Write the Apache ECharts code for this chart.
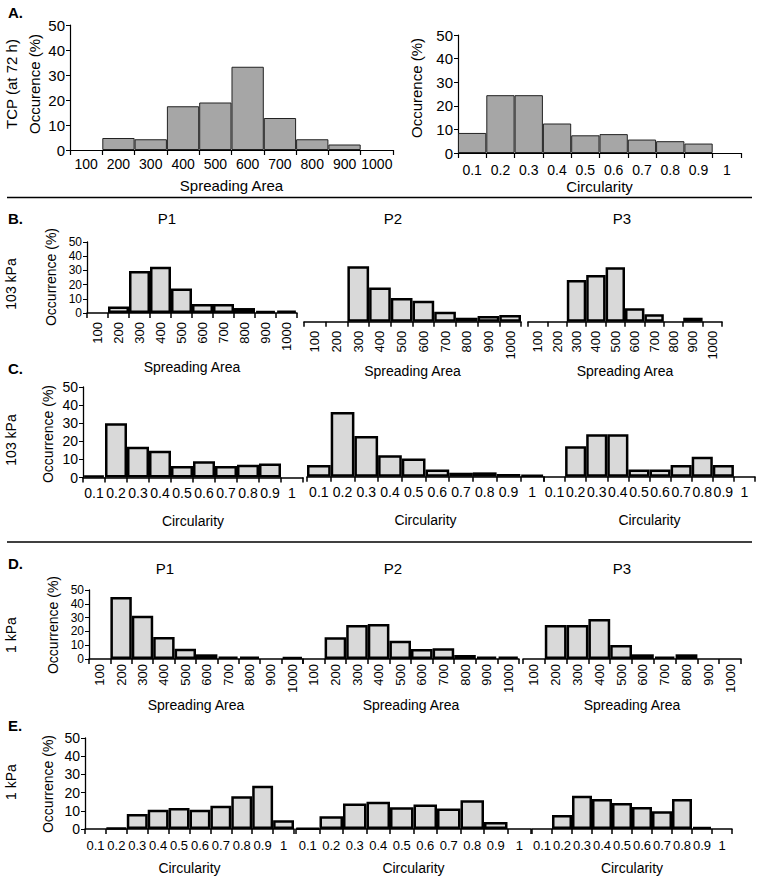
<!DOCTYPE html>
<html><head><meta charset="utf-8">
<script src="https://cdn.jsdelivr.net/npm/echarts@6/dist/echarts.min.js"></script>
<style>html,body{margin:0;padding:0;background:#fff}#c{width:762px;height:879px}</style>
</head><body><div id="c"></div>
<script>
// ---- categories / tick labels ----
const areaCats = ['100','200','300','400','500','600','700','800','900','1000'];
const circCats = ['0.1','0.2','0.3','0.4','0.5','0.6','0.7','0.8','0.9','1'];
const yMin = 0, yMax = 50, yStep = 10;

// ---- A. TCP (at 72 h) ----
const tcpArea = [0, 4.8, 4.3, 17.5, 19, 33.3, 12.8, 4.3, 2.2, 0];
const tcpCirc = [8.5, 24.5, 24.5, 12.5, 7.5, 8, 5.7, 5, 4, 0];
// ---- B. 103 kPa spreading area ----
const kpa103AreaP1 = [0, 4.6, 29.5, 32.5, 17.2, 6.3, 6.3, 3.5, 1.5, 1.6];
const kpa103AreaP2 = [0, 0, 39, 24, 16.7, 14.8, 7, 2.8, 4, 4.7];
const kpa103AreaP3 = [0, 0, 29.3, 32.9, 38.3, 9.4, 5.2, 0, 2.8, 0];
// ---- C. 103 kPa circularity ----
const kpa103CircP1 = [1.2, 30, 17, 14.8, 6.3, 9, 6.3, 7, 7.7, 0];
const kpa103CircP2 = [6.4, 35.7, 22.5, 11.9, 10, 4, 2.2, 2.4, 1.5, 1];
const kpa103CircP3 = [0, 16.8, 23.4, 23.4, 4, 4, 6.4, 11, 6.4, 0];
// ---- D. 1 kPa spreading area ----
const kpa1AreaP1 = [0, 45, 31.4, 16, 7.5, 3.4, 1.7, 1.7, 0, 1.5];
const kpa1AreaP2 = [0, 15.7, 24.6, 25.4, 13.3, 7.2, 7.7, 2.9, 1.7, 1.7];
const kpa1AreaP3 = [0, 24.6, 24.6, 29, 10.1, 3.4, 1.7, 3.4, 0, 0];
// ---- E. 1 kPa circularity ----
const kpa1CircP1 = [0, 0.5, 8.2, 10.6, 11.5, 10.6, 12.8, 18, 23.8, 4.8];
const kpa1CircP2 = [0.3, 7, 14, 15, 12, 13.4, 11.2, 15.8, 3.9, 0];
const kpa1CircP3 = [0, 7.7, 18.3, 16.5, 14.3, 12.1, 9.7, 16.5, 1.1, 0];

const FONT = '"Liberation Sans", Arial, Helvetica, sans-serif';

// layout of each small chart (positions only)
const panels = [
  {d: tcpArea, c: areaCats, l: 70, t: 25, w: 323, h: 125, y: true, kind: 'A', rot: 0, m: 7, fs: 14, yfs: 15, name: 'Spreading Area', gap: 28},
  {d: tcpCirc, c: circCats, l: 458, t: 35, w: 283, h: 118, y: true, kind: 'A', rot: 0, m: 10, fs: 14, yfs: 15, name: 'Circularity', gap: 26},

  {d: kpa103AreaP1, c: areaCats, l: 87, t: 242, w: 210, h: 71, y: true, kind: 'B', rot: 90, m: 9, fs: 13, yfs: 12, name: 'Spreading Area', gap: 47},
  {d: kpa103AreaP2, c: areaCats, l: 304, t: 250.7, w: 217, h: 71, y: false, kind: 'B', rot: 90, m: 9, fs: 13, yfs: 12, name: 'Spreading Area', gap: 38},
  {d: kpa103AreaP3, c: areaCats, l: 528, t: 250.7, w: 194, h: 71, y: false, kind: 'B', rot: 90, m: 9, fs: 13, yfs: 12, name: 'Spreading Area', gap: 38},

  {d: kpa103CircP1, c: circCats, l: 83, t: 387, w: 220, h: 90.5, y: true, kind: 'B', rot: 0, m: 8, fs: 14, yfs: 14, name: 'Circularity', gap: 36},
  {d: kpa103CircP2, c: circCats, l: 307, t: 386.2, w: 237, h: 90.5, y: false, kind: 'B', rot: 0, m: 8, fs: 14, yfs: 14, name: 'Circularity', gap: 36},
  {d: kpa103CircP3, c: circCats, l: 544, t: 386.2, w: 211, h: 90.5, y: false, kind: 'B', rot: 0, m: 8, fs: 14, yfs: 14, name: 'Circularity', gap: 36},

  {d: kpa1AreaP1, c: areaCats, l: 89, t: 590, w: 214, h: 69, y: true, kind: 'B', rot: 90, m: 5, fs: 13, yfs: 12, name: 'Spreading Area', gap: 39},
  {d: kpa1AreaP2, c: areaCats, l: 303, t: 590, w: 216, h: 69, y: false, kind: 'B', rot: 90, m: 5, fs: 13, yfs: 12, name: 'Spreading Area', gap: 39},
  {d: kpa1AreaP3, c: areaCats, l: 523, t: 590, w: 218, h: 69, y: false, kind: 'B', rot: 90, m: 5, fs: 13, yfs: 12, name: 'Spreading Area', gap: 39},

  {d: kpa1CircP1, c: circCats, l: 85, t: 738, w: 209, h: 91, y: true, kind: 'B', rot: 0, m: 10, fs: 13, yfs: 14, name: 'Circularity', gap: 32},
  {d: kpa1CircP2, c: circCats, l: 296, t: 738, w: 235, h: 91, y: false, kind: 'B', rot: 0, m: 10, fs: 13, yfs: 14, name: 'Circularity', gap: 32},
  {d: kpa1CircP3, c: circCats, l: 532, t: 738, w: 200, h: 91, y: false, kind: 'B', rot: 0, m: 10, fs: 13, yfs: 14, name: 'Circularity', gap: 32}
];

const grid = [], xAxis = [], yAxis = [], series = [];
panels.forEach((p, i) => {
  const isA = p.kind === 'A';
  grid.push({left: p.l, top: p.t, width: p.w, height: p.h, containLabel: false});
  xAxis.push({
    type: 'category', gridIndex: i, data: p.c, boundaryGap: true,
    axisLine: {show: true, onZero: false, lineStyle: {color: '#000', width: isA ? 1.2 : 1.5}},
    axisTick: {show: true, length: 5, alignWithLabel: false, lineStyle: {color: '#000', width: isA ? 1.2 : 1.5}},
    axisLabel: {interval: 0, rotate: p.rot, margin: p.m, color: '#000', fontSize: p.fs, fontFamily: FONT},
    name: p.name, nameLocation: 'middle', nameGap: p.gap,
    nameTextStyle: {color: '#000', fontSize: isA ? 15 : 14, fontFamily: FONT},
    splitLine: {show: false}
  });
  yAxis.push({
    type: 'value', gridIndex: i, min: yMin, max: yMax, interval: yStep, show: p.y,
    axisLine: {show: true, lineStyle: {color: '#000', width: isA ? 1.2 : 1.3}},
    axisTick: {show: true, length: 4, lineStyle: {color: '#000'}},
    axisLabel: {color: '#000', fontSize: p.yfs, lineHeight: p.yfs, margin: 5, fontFamily: FONT,
      showMinLabel: true, showMaxLabel: true, hideOverlap: false},
    splitLine: {show: false}
  });
  series.push({
    type: 'bar', xAxisIndex: i, yAxisIndex: i,
    data: p.d.map(v => v === 0 ? '-' : v),
    barWidth: '100%', barCategoryGap: '0%', silent: true, animation: false,
    itemStyle: isA
      ? {color: '#a6a6a6', borderColor: '#222', borderWidth: 1}
      : {color: '#d9d9d9', borderColor: '#000', borderWidth: 2.5}
  });
});

function txt(text, x, y, size, opts) {
  opts = opts || {};
  return {
    type: 'text', x: x, y: y, rotation: opts.rot ? Math.PI / 2 : 0, silent: true,
    style: {text: text, fill: '#000', font: (opts.bold ? 'bold ' : '') + size + 'px ' + FONT,
      align: opts.align || 'center', verticalAlign: 'middle'}
  };
}

const graphic = [
  {type: 'line', silent: true, shape: {x1: 7, y1: 197.5, x2: 752, y2: 197.5}, style: {stroke: '#000', lineWidth: 1.5}},
  {type: 'line', silent: true, shape: {x1: 7, y1: 542, x2: 752, y2: 542}, style: {stroke: '#000', lineWidth: 1.5}},
  txt('A.', 8, 12, 15, {bold: true, align: 'left'}),
  txt('TCP (at 72 h)', 11, 84, 15, {rot: true}),
  txt('Occurence (%)', 34, 84, 15, {rot: true}),
  txt('Occurence (%)', 416, 88, 15, {rot: true}),
  txt('B.', 8, 218, 15, {bold: true, align: 'left'}),
  txt('P1', 167, 218, 15), txt('P2', 393, 218, 15), txt('P3', 622, 218, 15),
  txt('103 kPa', 11, 284, 14, {rot: true}),
  txt('Occurrence (%)', 51, 277, 14, {rot: true}),
  txt('C.', 8, 368, 15, {bold: true, align: 'left'}),
  txt('103 kPa', 11, 440, 14, {rot: true}),
  txt('Occurrence (%)', 48, 434, 14, {rot: true}),
  txt('D.', 8, 563, 15, {bold: true, align: 'left'}),
  txt('P1', 165, 568, 15), txt('P2', 393, 568, 15), txt('P3', 622, 568, 15),
  txt('1 kPa', 11, 635, 14, {rot: true}),
  txt('Occurrence (%)', 53, 625, 14, {rot: true}),
  txt('E.', 8, 725, 15, {bold: true, align: 'left'}),
  txt('1 kPa', 11, 782, 14, {rot: true}),
  txt('Occurrence (%)', 48, 784, 14, {rot: true})
];

const chart = echarts.init(document.getElementById('c'), null, {renderer: 'svg', width: 762, height: 879});
chart.setOption({
  animation: false,
  backgroundColor: '#fff',
  textStyle: {fontFamily: FONT},
  grid: grid, xAxis: xAxis, yAxis: yAxis, series: series, graphic: graphic
});
</script>
</body></html>
